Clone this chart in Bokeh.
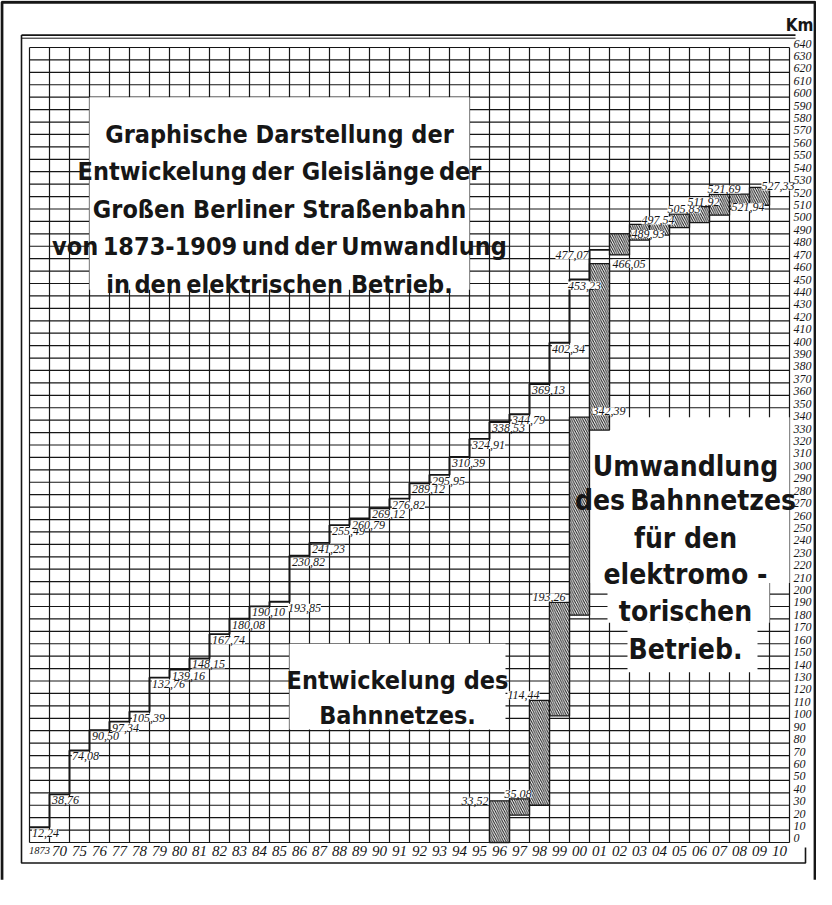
from bokeh.plotting import figure
from bokeh.models import Range1d
from bokeh.core.properties import value
from bokeh.embed import file_html
from bokeh.resources import INLINE

# ---------------- data ----------------
year_labels = ["1873", "70", "75", "76", "77", "78", "79", "80", "81", "82", "83",
               "84", "85", "86", "87", "88", "89", "90", "91", "92", "93", "94",
               "95", "96", "97", "98", "99", "00", "01", "02", "03", "04", "05",
               "06", "07", "08", "09", "10"]
# total track length (Entwickelung des Bahnnetzes), one value per year column
total_years = year_labels[:29]
total_km = [12.24, 38.76, 74.08, 90.50, 97.34, 105.39, 132.76, 139.16, 148.15,
            167.74, 180.08, 190.10, 193.85, 230.82, 241.23, 255.49, 260.79,
            269.12, 276.82, 289.12, 295.95, 310.39, 324.91, 338.53, 344.79,
            369.13, 402.34, 453.23, 477.07]
# electrified track length (Umwandlung), hatched band
electric_years = ["96", "97", "98", "99", "00", "01", "02", "03", "04", "05",
                  "06", "07", "08", "09"]
electric_km = [33.52, 35.08, 114.44, 193.26, 342.39, 466.05, 489.93, 497.54,
               501.5, 505.83, 511.92, 521.69, 521.94, 527.33]
electric_lower = [0, 22, 30, 102, 183, 332, 473, 485, 489, 495, 499, 505, 510, 513]
electric_labelled = [True] * 8 + [False] + [True] * 5
km_ticks = list(range(0, 641, 10))
km_tick_labels = [str(v) for v in km_ticks]

T = "\u2009"  # the tight word spaces of the print
title_lines = ["Graphische Darstellung der", f"Entwickelung{T}der Gleislänge{T}der",
               "Großen Berliner Straßenbahn", f"von{T}1873-1909{T}und{T}der{T}Umwandlung",
               f"in{T}den{T}elektrischen Betrieb."]
net_lines = ["Entwickelung des", "Bahnnetzes."]
conv_lines = ["Umwandlung", f"des{T}Bahnnetzes", "für den", "elektromo -",
              "torischen", "Betrieb."]

# ---------------- layout / style ----------------
INK = "#161616"
NUM_FONT = value("Liberation Serif")
BIG_FONT = value("DejaVu Sans Condensed, Roboto, sans-serif")
ncol = len(year_labels)
col = {y: i for i, y in enumerate(year_labels)}

p = figure(width=816, height=889, x_range=Range1d(-1.45, 39.35),
           y_range=Range1d(-37.84, 677.84), x_axis_type=None, y_axis_type=None,
           toolbar_location=None, output_backend="svg", min_border=0)
p.outline_line_color = None
p.background_fill_color = "white"
p.border_fill_color = "white"

# grid cells
p.segment(x0=list(range(ncol + 1)), y0=0, x1=list(range(ncol + 1)), y1=640,
          line_color=INK, line_width=1.2)
p.segment(x0=0, y0=km_ticks, x1=ncol, y1=km_ticks, line_color=INK, line_width=1.2)

# frames
p.line(x=[-0.4, -0.4, 38.8, 38.8], y=[650, -16.5, -16.5, -4], line_color=INK, line_width=1.6)
p.line(x=[-0.4, 38.3], y=[650, 650], line_color=INK, line_width=1.6)
p.line(x=[-0.4, 38.3], y=[647.5, 647.5], line_color=INK, line_width=1.0)
p.line(x=[-1.38, -1.38, 39.28, 39.28], y=[-30, 676.5, 676.5, -30], line_color=INK, line_width=3)

# white label boxes pasted over the grid
p.quad(left=[3, 13, 28, 28.9, 29.9], right=[22, 23.8, 38, 37.0, 36.4],
       bottom=[445, 91, 209, 177, 137], top=[600, 160, 342.4, 209, 177],
       fill_color="white", line_color=None)

# hatched band: conversion to electric operation
ex = [col[y] for y in electric_years]
p.quad(left=ex, right=[c + 1 for c in ex], bottom=electric_lower, top=electric_km,
       fill_color="white", hatch_pattern="\\", hatch_color=INK, hatch_scale=4.5,
       hatch_weight=1.0, line_color=INK, line_width=1.3)

# staircase of total length
tx = [col[y] for y in total_years]
p.step(x=tx + [tx[-1] + 1], y=total_km + [total_km[-1]], mode="after",
       line_color=INK, line_width=1.9)


def fmt(v):
    return f"{v:.2f}".replace(".", ",")


NUM = dict(text_font=NUM_FONT, text_font_style="italic", text_font_size="12px",
           text_color=INK, background_fill_color="white")

# labels of the staircase: below each step, starting at column's left
shift = {"85": 0.8, "00": -0.2}
mx, my, mt = [], [], []
for y, v in zip(total_years, total_km):
    if y == "01":
        continue
    mx.append(col[y] + 0.12 + shift.get(y, 0))
    my.append(v)
    mt.append(fmt(v))
p.text(x=mx, y=my, text=mt, text_baseline="top", text_align="left", y_offset=2, **NUM)
p.text(x=[col["01"] - 0.05], y=[total_km[-1]], text=[fmt(total_km[-1])],
       text_baseline="top", text_align="right", y_offset=1, **NUM)

# labels of the hatched band
estyle = {"96": (-0.05, "right", "middle", 0), "97": (-0.25, "left", "bottom", -1),
          "98": (0.5, "right", "bottom", -1), "99": (0.8, "right", "bottom", -1),
          "00": (1.15, "left", "bottom", -2), "01": (1.15, "left", "middle", 0),
          "02": (1.1, "left", "middle", 0), "03": (0.6, "left", "bottom", 0),
          "08": (0.1, "left", "top", 9), "09": (0.6, "left", "bottom", 3)}
for y, v, lab in zip(electric_years, electric_km, electric_labelled):
    if not lab:
        continue
    dx, al, bl, yo = estyle.get(y, (-0.1, "left", "bottom", -1))
    p.text(x=[col[y] + dx], y=[v], text=[fmt(v)], text_baseline=bl, text_align=al,
           y_offset=yo, **NUM)

# year labels (bottom) and km labels (right)
YR = dict(text_font=NUM_FONT, text_font_style="italic", text_align="center",
          text_baseline="middle", text_color=INK)
p.text(x=[i + 0.5 for i in range(1, ncol)], y=-6.5, text=year_labels[1:],
       text_font_size="15px", **YR)
p.text(x=[0.5], y=-6.5, text=year_labels[:1], text_font_size="10.5px", **YR)
p.text(x=38.2, y=km_ticks, text=km_tick_labels, text_font=NUM_FONT,
       text_font_style="italic", text_font_size="12px", text_align="left",
       text_baseline="middle", y_offset=-4, text_color=INK)
p.text(x=[39.2], y=[658], text=["Km"], text_font=BIG_FONT, text_font_size="17px",
       text_font_style="bold", text_align="right", text_baseline="alphabetic",
       text_color=INK)

# big texts
BIG = dict(text_font=BIG_FONT, text_font_style="bold", text_align="center",
           text_baseline="alphabetic", text_color=INK)
p.text(x=12.5, y=[570, 539.8, 509.7, 479.5, 449.3], text=title_lines,
       text_font_size="25px", **BIG)
p.text(x=18.4, y=[130.4, 102.3], text=net_lines, text_font_size="25px", **BIG)
p.text(x=32.8, y=[303, 275, 245, 216, 186, 155.5], text=conv_lines,
       text_font_size="28px", **BIG)

open("out.html", "w").write(file_html(p, INLINE))
